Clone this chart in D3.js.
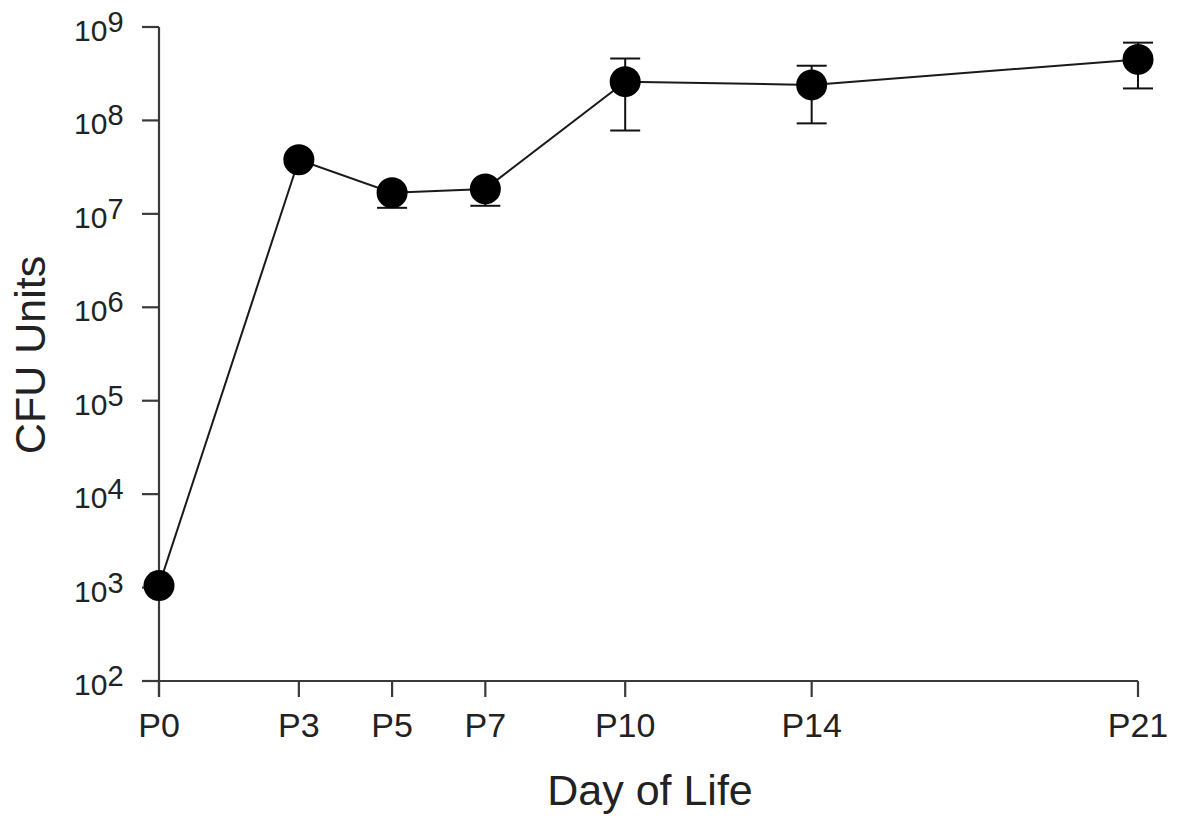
<!DOCTYPE html>
<html>
<head>
<meta charset="utf-8">
<script src="https://cdn.jsdelivr.net/npm/d3@7"></script>
<style>
  body { margin: 0; background: #fff; }
  text { font-family: "Liberation Sans", Arial, sans-serif; fill: #222; }
</style>
</head>
<body>
<div id="chart"></div>
<script>
// days of life and CFU readings (mean, lower and upper error)
var days = [0, 3, 5, 7, 10, 14, 21]
var dayLabels = ["P0", "P3", "P5", "P7", "P10", "P14", "P21"]
var cfu = [1050, 3.8e7, 1.68e7, 1.85e7, 2.6e8, 2.4e8, 4.5e8]
var cfuLow = [1050, 3.6e7, 1.16e7, 1.22e7, 7.8e7, 9.3e7, 2.2e8]
var cfuHigh = [1050, 4.0e7, 1.75e7, 1.9e7, 4.6e8, 3.85e8, 6.8e8]
var yTicks = [2, 3, 4, 5, 6, 7, 8, 9]

var width = 1181
var height = 819

var svg = d3.select("#chart")
  .append("svg")
    .attr("width", width)
    .attr("height", height)

var x = d3.scaleLinear()
  .domain([0, 21])
  .range([159, 1138])

var y = d3.scaleLog()
  .domain([1e2, 1e9])
  .range([681, 27])

var axisColor = "#3a3a3a"

// x axis: extends left past y axis
svg.append("line")
  .attr("x1", x(0) - 17).attr("x2", x(21))
  .attr("y1", y(1e2)).attr("y2", y(1e2))
  .attr("stroke", axisColor).attr("stroke-width", 2.2)

// y axis: extends below x axis
svg.append("line")
  .attr("x1", x(0)).attr("x2", x(0))
  .attr("y1", y(1e9)).attr("y2", y(1e2) + 16)
  .attr("stroke", axisColor).attr("stroke-width", 2.2)

// x ticks
svg.append("g")
  .selectAll("line")
  .data(days)
  .enter()
  .append("line")
    .attr("x1", function(d){ return x(d) })
    .attr("x2", function(d){ return x(d) })
    .attr("y1", y(1e2))
    .attr("y2", y(1e2) + 16)
    .attr("stroke", axisColor).attr("stroke-width", 2.2)

svg.append("g")
  .selectAll("text")
  .data(days)
  .enter()
  .append("text")
    .attr("x", function(d){ return x(d) })
    .attr("y", 737)
    .attr("text-anchor", "middle")
    .style("font-size", "34px")
    .text(function(d, i){ return dayLabels[i] })

// y ticks
svg.append("g")
  .selectAll("line")
  .data(yTicks)
  .enter()
  .append("line")
    .attr("x1", x(0) - 17)
    .attr("x2", x(0))
    .attr("y1", function(d){ return y(Math.pow(10, d)) })
    .attr("y2", function(d){ return y(Math.pow(10, d)) })
    .attr("stroke", axisColor).attr("stroke-width", 2.2)

var yLab = svg.append("g")
  .selectAll("text")
  .data(yTicks)
  .enter()
  .append("text")
    .attr("x", 74)
    .attr("y", function(d){ return y(Math.pow(10, d)) + 14 })
    .style("font-size", "30px")

yLab.append("tspan").text("10")
yLab.append("tspan")
  .attr("dy", -9)
  .style("font-size", "29px")
  .text(function(d){ return d })

// axis titles
svg.append("text")
  .attr("x", 650)
  .attr("y", 805)
  .attr("text-anchor", "middle")
  .style("font-size", "43px")
  .text("Day of Life")

svg.append("text")
  .attr("transform", "translate(45,355) rotate(-90)")
  .attr("text-anchor", "middle")
  .style("font-size", "43px")
  .text("CFU Units")

// error bars
var eb = svg.append("g")
  .selectAll("g")
  .data(days)
  .enter()
  .append("g")
    .attr("stroke", "#111")
    .attr("stroke-width", 2)

eb.append("line")
  .attr("x1", function(d){ return x(d) })
  .attr("x2", function(d){ return x(d) })
  .attr("y1", function(d, i){ return y(cfuLow[i]) })
  .attr("y2", function(d, i){ return y(cfuHigh[i]) })

eb.filter(function(d, i){ return i > 1 })
  .append("line")
  .attr("x1", function(d){ return x(d) - 15 })
  .attr("x2", function(d){ return x(d) + 15 })
  .attr("y1", function(d, i){ return y(cfuLow[i + 2]) })
  .attr("y2", function(d, i){ return y(cfuLow[i + 2]) })

eb.filter(function(d, i){ return i > 1 })
  .append("line")
  .attr("x1", function(d){ return x(d) - 15 })
  .attr("x2", function(d){ return x(d) + 15 })
  .attr("y1", function(d, i){ return y(cfuHigh[i + 2]) })
  .attr("y2", function(d, i){ return y(cfuHigh[i + 2]) })

// line
var line = d3.line()
  .x(function(d, i){ return x(days[i]) })
  .y(function(d){ return y(d) })

svg.append("path")
  .datum(cfu)
  .attr("d", line)
  .attr("fill", "none")
  .attr("stroke", "#1a1a1a")
  .attr("stroke-width", 2)

// points
svg.append("g")
  .selectAll("circle")
  .data(cfu)
  .enter()
  .append("circle")
    .attr("cx", function(d, i){ return x(days[i]) })
    .attr("cy", function(d){ return y(d) })
    .attr("r", 15.5)
    .style("fill", "#000")
</script>
</body>
</html>
